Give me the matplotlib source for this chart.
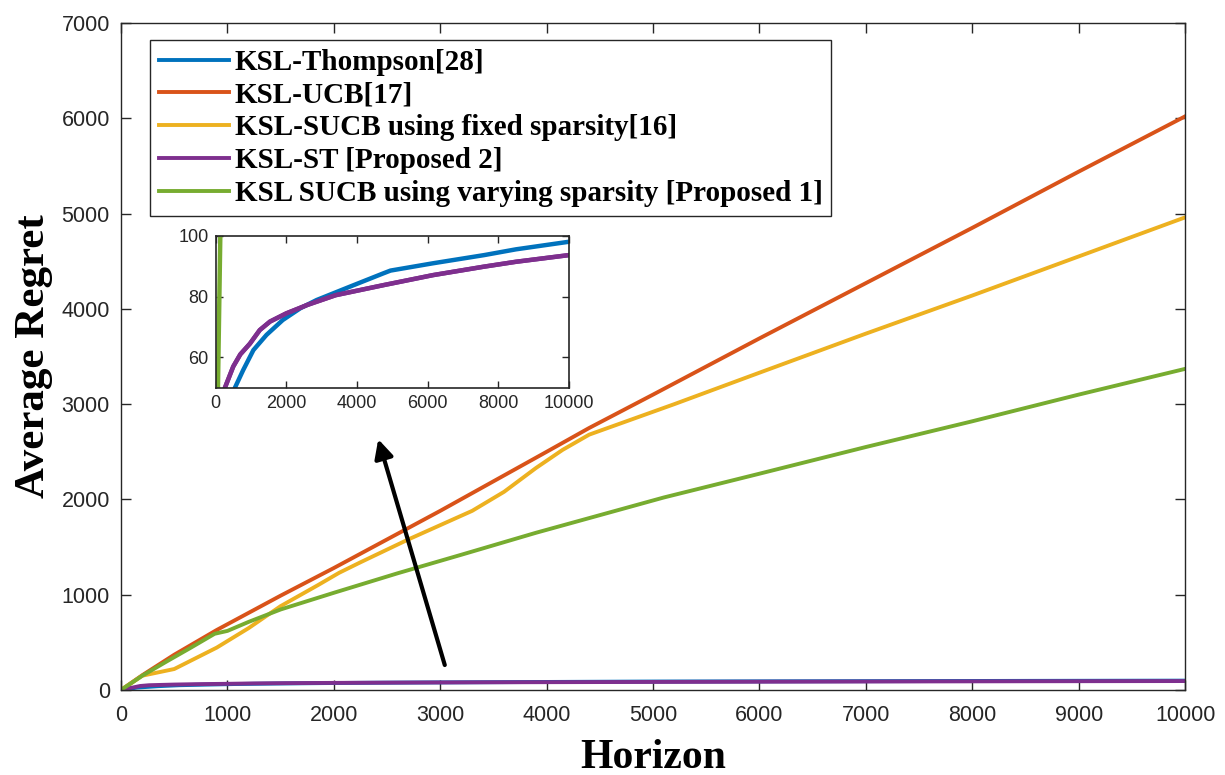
import numpy as np
import matplotlib
matplotlib.use("Agg")
import matplotlib.pyplot as plt

# MATLAB default colours
c_blue = "#0072BD"
c_red = "#D95319"
c_yel = "#EDB120"
c_pur = "#7E2F8E"
c_grn = "#77AC30"

# values
x_thompson = [0, 150, 350, 547, 780, 1070, 1440, 1900, 2400, 2860, 3800, 4750, 4950, 6150, 7600, 8500, 10000]
y_thompson = [0, 25, 40, 50, 55.8, 62.4, 67.4, 72.3, 76.2, 78.9, 83.3, 87.7, 88.6, 91, 93.7, 95.6, 98.1]

x_ucb = [0, 200, 500, 900, 1500, 2000, 2500, 3000, 3500, 4000, 4400, 5000, 6000, 7000, 8000, 9000, 10000]
y_ucb = [0, 155, 370, 630, 990, 1280, 1580, 1880, 2190, 2500, 2750, 3100, 3690, 4270, 4850, 5440, 6020]

x_sucb_fixed = [0, 200, 500, 900, 1200, 1500, 1850, 2050, 2250, 2700, 3000, 3300, 3600, 3900, 4150, 4400, 5200, 6000, 7000, 8000, 9000, 10000]
y_sucb_fixed = [0, 150, 220, 445, 650, 880, 1100, 1230, 1340, 1580, 1730, 1880, 2080, 2330, 2520, 2680, 3000, 3330, 3740, 4140, 4550, 4960]

x_st = [0, 180, 264, 500, 700, 970, 1250, 1540, 2000, 2600, 3400, 4750, 6150, 7600, 8500, 10000]
y_st = [0, 42, 50, 57, 61, 64.5, 69, 71.8, 74.5, 77.3, 80.5, 83.8, 87.1, 89.9, 91.5, 93.7]

x_sucb_var = [0, 200, 430, 650, 880, 1000, 1200, 1500, 2000, 2600, 3200, 3900, 5100, 6000, 7000, 8000, 9000, 10000]
y_sucb_var = [0, 150, 300, 440, 590, 620, 715, 845, 1020, 1225, 1420, 1650, 2020, 2270, 2550, 2820, 3100, 3370]

labels = ["KSL-Thompson[28]", "KSL-UCB[17]", "KSL-SUCB using fixed sparsity[16]",
          "KSL-ST [Proposed 2]", "KSL SUCB using varying sparsity [Proposed 1]"]

series = [(x_thompson, y_thompson, c_blue), (x_ucb, y_ucb, c_red),
          (x_sucb_fixed, y_sucb_fixed, c_yel), (x_st, y_st, c_pur),
          (x_sucb_var, y_sucb_var, c_grn)]

serif = "Liberation Serif"
sans = "Liberation Sans"
axcol = "#262626"

fig = plt.figure(figsize=(12.25, 7.75), dpi=100)
ax = fig.add_axes([0.0988, 0.1097, 0.8686, 0.8606])

for (xs, ys, col), lab in zip(series, labels):
    ax.plot(xs, ys, color=col, lw=2.8, label=lab)

ax.set_xlim(0, 10000)
ax.set_ylim(0, 7000)
ax.set_xticks(np.arange(0, 10001, 1000))
ax.set_yticks(np.arange(0, 7001, 1000))
ax.tick_params(direction="in", top=True, right=True, length=7, width=1,
               colors=axcol, labelsize=15.5)
ax.tick_params(axis="x", pad=11)
ax.tick_params(axis="y", pad=8)
for lbl in ax.get_xticklabels() + ax.get_yticklabels():
    lbl.set_fontfamily(sans)
for s in ax.spines.values():
    s.set_color(axcol)
    s.set_linewidth(1)

ax.set_xlabel("Horizon", fontfamily=serif, fontweight="bold", fontsize=30, labelpad=9)
ax.set_ylabel("Average Regret", fontfamily=serif, fontweight="bold", fontsize=31, labelpad=6)

leg = ax.legend(loc="upper left", bbox_to_anchor=(0.0273, 0.9745), borderaxespad=0,
                prop={"family": serif, "weight": "bold", "size": 21},
                handlelength=2.4, handletextpad=0.2, labelspacing=0.2,
                fancybox=False, framealpha=1, edgecolor=axcol, borderpad=0.3)
leg.get_frame().set_linewidth(1)

ax.annotate("", xy=(2410, 2660), xytext=(3050, 234),
            arrowprops=dict(arrowstyle="-|>", lw=3, color="black", mutation_scale=28))

# zoomed inset
ins = fig.add_axes([0.176, 0.4997, 0.2884, 0.1958])
for xs, ys, col in series:
    if col in (c_red, c_yel):
        continue
    ins.plot(xs, ys, color=col, lw=3.2)
ins.plot(x_st, y_st, color=c_pur, lw=3.2)
ins.set_xlim(0, 10000)
ins.set_ylim(50, 100)
ins.set_xticks(np.arange(0, 10001, 2000))
ins.set_yticks([60, 80, 100])
ins.tick_params(direction="in", top=True, right=True, length=5, width=1,
                colors=axcol, labelsize=13, pad=5)
for lbl in ins.get_xticklabels() + ins.get_yticklabels():
    lbl.set_fontfamily(sans)
for s in ins.spines.values():
    s.set_color(axcol)
    s.set_linewidth(1.2)

fig.savefig("out.png", dpi=100)
